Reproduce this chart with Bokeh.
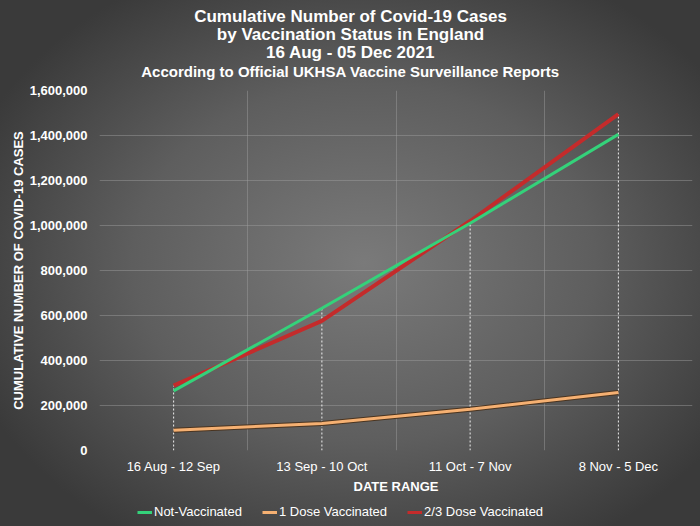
from bokeh.plotting import figure
from bokeh.layouts import column
from bokeh.models import (Label, Legend, LegendItem, FixedTicker,
                          NumeralTickFormatter, Range1d)
from bokeh.embed import file_html
from bokeh.resources import INLINE

categories = ["16 Aug - 12 Sep", "13 Sep - 10 Oct", "11 Oct - 7 Nov", "8 Nov - 5 Dec"]
not_vaccinated = [265000, 632000, 1010000, 1405000]
one_dose = [90000, 120000, 183000, 258000]
two_three_dose = [288000, 576000, 1020000, 1495000]
y_ticks = [0, 200000, 400000, 600000, 800000, 1000000, 1200000, 1400000, 1600000]
series_names = ["Not-Vaccinated", "1 Dose Vaccinated", "2/3 Dose Vaccinated"]
series_colors = ["#34d27a", "#f5b072", "#c42b2b"]
title_lines = ["Cumulative Number of Covid-19 Cases",
               "by Vaccination Status in England",
               "16 Aug - 05 Dec 2021"]
subtitle = "According to Official UKHSA Vaccine Surveillance Reports"

xs = [i + 0.5 for i in range(len(categories))]
tops = [max(a, b, c) for a, b, c in zip(not_vaccinated, one_dose, two_three_dose)]

FONT = "Liberation Sans"
WHITE = "#ffffff"
LEFT, RIGHT, W = 99, 8, 700


def bare(fig):
    fig.background_fill_alpha = 0
    fig.border_fill_alpha = 0
    fig.outline_line_color = None
    fig.title.visible = False


# ---- header with the title lines (ranges in pixels of the page width) ----
hf = figure(width=W, height=82, output_backend="svg", toolbar_location=None,
            x_axis_type=None, y_axis_type=None,
            x_range=Range1d(LEFT, W - RIGHT), y_range=Range1d(82, 0),
            min_border_left=LEFT, min_border_right=RIGHT, min_border_top=0, min_border_bottom=0)
bare(hf)
hf.grid.visible = False
for line, ypos in zip(title_lines, [16, 34, 52]):
    hf.add_layout(Label(x=W / 2, y=ypos, text=line, text_align="center", text_baseline="middle",
                        text_color=WHITE, text_font=FONT, text_font_size="17px",
                        text_font_style="bold"))
hf.add_layout(Label(x=W / 2, y=71, text=subtitle, text_align="center", text_baseline="middle",
                    text_color=WHITE, text_font=FONT, text_font_size="15px",
                    text_font_style="bold"))

# ---- main chart ----
p = figure(width=W, height=416, output_backend="svg", toolbar_location=None,
           x_range=Range1d(0, len(categories)), y_range=Range1d(0, y_ticks[-1]),
           min_border_left=LEFT, min_border_right=RIGHT, min_border_top=8, min_border_bottom=48)
bare(p)

p.xaxis.ticker = FixedTicker(ticks=xs)
p.xaxis.major_label_overrides = {x: c for x, c in zip(xs, categories)}
p.xaxis.axis_line_color = None
p.xaxis.major_tick_line_color = None
p.xaxis.minor_tick_line_color = None
p.xaxis.major_label_text_color = WHITE
p.xaxis.major_label_text_font = FONT
p.xaxis.major_label_text_font_size = "13px"
p.xaxis.major_label_standoff = 2
p.xaxis.axis_label = "DATE RANGE"
p.xaxis.axis_label_text_color = WHITE
p.xaxis.axis_label_text_font = FONT
p.xaxis.axis_label_text_font_size = "13px"
p.xaxis.axis_label_text_font_style = "bold"
p.xaxis.axis_label_standoff = 2

p.yaxis.ticker = FixedTicker(ticks=y_ticks)
p.yaxis.formatter = NumeralTickFormatter(format="0,0")
p.yaxis.axis_line_color = None
p.yaxis.major_tick_line_color = None
p.yaxis.minor_tick_line_color = None
p.yaxis.major_label_text_color = WHITE
p.yaxis.major_label_text_font = FONT
p.yaxis.major_label_text_font_size = "13px"
p.yaxis.major_label_text_font_style = "bold"
p.yaxis.major_label_standoff = 6
p.yaxis.axis_label = "CUMULATIVE NUMBER OF COVID-19 CASES"
p.yaxis.axis_label_text_color = WHITE
p.yaxis.axis_label_text_font = FONT
p.yaxis.axis_label_text_font_size = "13px"
p.yaxis.axis_label_text_font_style = "bold"
p.yaxis.axis_label_standoff = 1

p.xgrid.ticker = FixedTicker(ticks=list(range(len(categories) + 1)))
p.xgrid.grid_line_color = "#a0a0a0"
p.xgrid.grid_line_alpha = 0.45
p.ygrid.grid_line_color = "#a0a0a0"
p.ygrid.grid_line_alpha = 0.45

p.segment(x0=xs, y0=[0] * len(xs), x1=xs, y1=tops, line_color=WHITE,
          line_width=1, line_dash="2 2", line_alpha=0.9)

p.line(xs, one_dose, line_color="#4a3420", line_width=5)
p.line(xs, one_dose, line_color=series_colors[1], line_width=3)
p.line(xs, two_three_dose, line_color=series_colors[2], line_width=4)
p.line(xs, not_vaccinated, line_color=series_colors[0], line_width=3)

# ---- legend strip (sample lines sit outside the visible range) ----
lg = figure(width=W, height=28, output_backend="svg", toolbar_location=None,
            x_axis_type=None, y_axis_type=None, x_range=Range1d(0, 1), y_range=Range1d(0, 1),
            min_border_left=LEFT, min_border_right=RIGHT, min_border_top=0, min_border_bottom=0)
bare(lg)
lg.grid.visible = False
items = []
for name, color in zip(series_names, series_colors):
    r = lg.line(x=[-3, -2], y=[-3, -2], line_color=color, line_width=3)
    items.append(LegendItem(label=name, renderers=[r]))
legend = Legend(items=items, orientation="horizontal", location=(137 - LEFT, 7),
                background_fill_alpha=0, border_line_color=None,
                label_text_color=WHITE, label_text_font=FONT, label_text_font_size="13px",
                glyph_width=15, glyph_height=14, label_standoff=2, spacing=20,
                padding=2, margin=0)
lg.add_layout(legend, "center")

layout = column(hf, p, lg, spacing=0, styles={
    "background": "radial-gradient(ellipse 60% 62% at 52% 50%, #7a7a7a 0%, #5e5e5e 55%, #3a3a3a 100%)"})

open("out.html", "w").write(file_html(layout, INLINE))
